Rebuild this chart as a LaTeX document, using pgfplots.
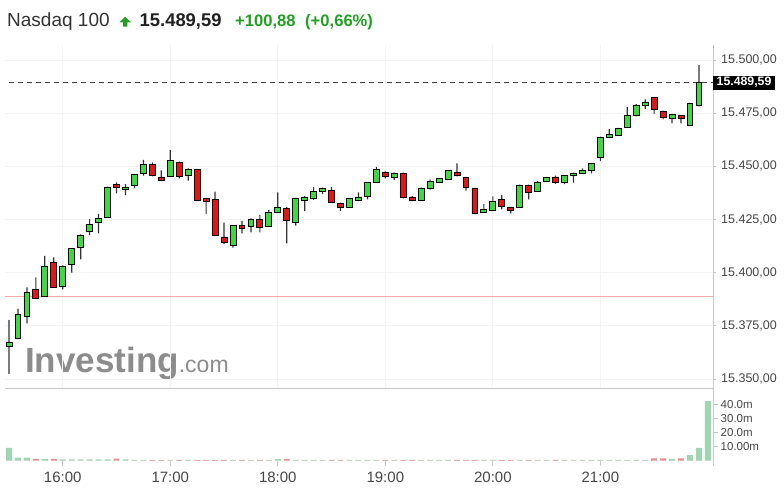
\documentclass[border=0pt]{standalone}
\usepackage{pgfplots}
\pgfplotsset{compat=1.18}
\usepackage{pgfplotstable}
\usepackage{fontspec}
\setmainfont{Liberation Sans}

\definecolor{cgreen}{RGB}{63,217,63}
\definecolor{cred}{RGB}{226,22,22}
\definecolor{wickc}{RGB}{50,50,50}
\definecolor{gridc}{RGB}{244,244,244}
\definecolor{sepc}{RGB}{200,200,200}
\definecolor{labc}{RGB}{70,70,70}
\definecolor{titlec}{RGB}{51,51,51}
\definecolor{upgreen}{RGB}{33,160,33}
\definecolor{prevc}{RGB}{245,170,170}
\definecolor{vgreen}{RGB}{158,214,178}
\definecolor{vred}{RGB}{232,140,140}
\definecolor{wmc}{RGB}{140,140,140}

\pgfplotstableread{
x o h l c
0 15365.5 15377.8 15352.4 15367.3
1 15369.0 15383.1 15368.8 15380.3
2 15379.2 15393.1 15376.2 15390.8
3 15392.2 15397.8 15387.8 15388.0
4 15389.0 15407.9 15388.8 15403.1
5 15405.0 15407.2 15393.0 15393.3
6 15393.4 15403.5 15392.2 15403.1
7 15403.8 15411.5 15400.0 15411.3
8 15411.9 15418.0 15406.3 15417.7
9 15419.3 15425.2 15417.7 15422.8
10 15423.7 15427.6 15418.5 15425.6
11 15426.2 15440.5 15426.0 15440.3
12 15441.6 15442.5 15437.3 15440.0
13 15439.0 15441.6 15436.5 15440.3
14 15441.2 15446.3 15439.7 15446.1
15 15446.5 15453.0 15445.6 15451.0
16 15450.8 15451.9 15445.3 15445.5
17 15445.0 15448.1 15443.4 15443.6
18 15445.3 15457.7 15445.0 15452.7
19 15452.0 15452.2 15444.4 15445.3
20 15445.5 15449.0 15443.3 15448.6
21 15448.6 15448.8 15434.0 15434.2
22 15435.0 15435.2 15427.5 15433.4
23 15434.5 15438.1 15417.5 15417.7
24 15416.8 15423.5 15413.4 15414.3
25 15413.0 15422.3 15411.8 15422.1
26 15422.1 15424.4 15418.5 15420.9
27 15421.6 15425.5 15419.0 15425.1
28 15425.1 15427.1 15419.0 15421.3
29 15421.8 15429.5 15421.6 15428.4
30 15428.4 15437.8 15428.2 15430.9
31 15430.3 15431.0 15413.8 15424.8
32 15423.7 15435.2 15422.1 15435.0
33 15434.2 15436.0 15429.0 15435.6
34 15435.0 15440.4 15434.2 15438.4
35 15438.4 15440.0 15436.9 15439.7
36 15438.6 15440.4 15433.0 15433.1
37 15432.6 15433.0 15429.1 15430.7
38 15430.7 15435.2 15430.5 15435.0
39 15434.2 15437.8 15434.0 15435.6
40 15435.7 15442.7 15434.5 15442.5
41 15442.5 15449.8 15442.3 15448.4
42 15447.2 15447.6 15444.4 15445.3
43 15444.7 15447.0 15443.6 15446.7
44 15446.7 15447.0 15435.0 15435.3
45 15435.6 15436.0 15433.7 15434.2
46 15434.2 15440.0 15434.0 15439.7
47 15439.4 15443.9 15439.0 15442.8
48 15442.5 15444.3 15442.3 15444.1
49 15443.9 15448.2 15443.7 15448.0
50 15447.2 15451.4 15445.3 15445.5
51 15444.9 15445.1 15438.6 15440.0
52 15439.7 15439.9 15427.5 15427.7
53 15428.4 15432.2 15428.2 15429.8
54 15429.5 15435.9 15429.3 15433.7
55 15434.5 15436.5 15429.8 15431.0
56 15430.7 15431.0 15427.9 15429.5
57 15430.7 15441.4 15430.5 15441.2
58 15441.2 15441.4 15434.5 15437.8
59 15438.1 15443.0 15438.0 15442.3
60 15443.1 15445.1 15442.9 15444.9
61 15445.0 15445.6 15441.8 15442.5
62 15442.3 15445.8 15441.6 15445.6
63 15445.5 15447.0 15442.3 15446.7
64 15446.7 15449.1 15446.5 15448.1
65 15448.3 15451.6 15446.7 15451.4
66 15454.3 15464.0 15452.5 15463.8
67 15463.7 15467.6 15463.5 15465.1
68 15464.7 15468.1 15464.5 15467.9
69 15468.5 15477.8 15468.3 15473.7
70 15473.7 15479.3 15473.5 15478.5
71 15478.8 15481.5 15477.0 15480.1
72 15482.5 15482.7 15474.5 15476.8
73 15476.0 15476.2 15472.1 15473.1
74 15472.6 15474.7 15470.2 15474.5
75 15473.8 15474.0 15470.2 15472.6
76 15469.4 15479.8 15469.1 15479.6
77 15478.4 15497.6 15478.2 15489.59
}\candles

\pgfplotstableread{
x vg vr
0 9.0 0
1 2.0 0
2 2.0 0
3 0 1.2
4 1.0 0
5 0 1.2
6 0.8 0
7 0.8 0
8 0.8 0
9 0.8 0
10 0.8 0
11 0.8 0
12 0 1.3
13 0.8 0
14 0.5 0
15 0.5 0
16 0 0.5
17 0 0.5
18 0.5 0
19 0 0.5
20 0.5 0
21 0 0.5
22 0 0.5
23 0 0.5
24 0 0.5
25 0.5 0
26 0 0.5
27 0.5 0
28 0 0.5
29 0.5 0
30 1.0 0
31 0 1.2
32 0.4 0
33 0.4 0
34 0.4 0
35 0.4 0
36 0 0.4
37 0 0.4
38 0.4 0
39 0.4 0
40 0.4 0
41 0.4 0
42 0 0.4
43 0.4 0
44 0 0.4
45 0 0.4
46 0.4 0
47 0.4 0
48 0.4 0
49 0.4 0
50 0 0.4
51 0 0.4
52 0 0.4
53 0.4 0
54 0.4 0
55 0 0.4
56 0 0.4
57 0.4 0
58 0 0.4
59 0.4 0
60 0.4 0
61 0 0.4
62 0.4 0
63 0.4 0
64 0.4 0
65 0.4 0
66 0.4 0
67 0.4 0
68 0.4 0
69 0.4 0
70 0.4 0
71 0.4 0
72 0 1.5
73 0 1.5
74 1.2 0
75 0 1.5
76 3.8 0
77 9.0 0
78 42.4 0
}\vols

\pgfplotsset{
  pricegeom/.style={
    at={(5pt,-388pt)}, anchor=south west, scale only axis,
    width=708pt, height=343pt,
    xmin=-0.446, xmax=78.57, ymin=15345.79, ymax=15507.05,
  }
}

\begin{document}
\begin{tikzpicture}[x=1pt,y=1pt]
\useasboundingbox (0,0) rectangle (784,-493);

% header
\node[anchor=base west, inner sep=0pt, text=titlec, font=\fontsize{19}{19}\selectfont] at (7,-26.7) {Nasdaq 100};
\fill[upgreen] (119.5,-22.3) -- (125.2,-16.8) -- (130.9,-22.3) -- (127.3,-22.3) -- (127.3,-26.7) -- (123.1,-26.7) -- (123.1,-22.3) -- cycle;
\node[anchor=base west, inner sep=0pt, text=black!87, font=\bfseries\fontsize{18.4}{19}\selectfont] at (139.5,-26.7) {15.489,59};
\node[anchor=base west, inner sep=0pt, text=upgreen, font=\bfseries\fontsize{16.6}{17}\selectfont] at (235,-26.7) {+100,88};
\node[anchor=base west, inner sep=0pt, text=upgreen, font=\bfseries\fontsize{16.6}{17}\selectfont] at (305,-26.7) {(+0,66\%)};

% watermark
\node[anchor=base west, inner sep=0pt, text=wmc] at (25,-372.7) {{\bfseries\fontsize{35}{35}\selectfont Investing}{\fontsize{23}{23}\selectfont .com}};

% axis A: grid, ticks, reference lines
\begin{axis}[pricegeom,
  axis line style={draw=none},
  scaled y ticks=false,
  xtick={6,18,30,42,54,66}, xticklabels={}, xmajorgrids,
  xtick style={draw=none},
  ytick={15350,15375,15400,15425,15450,15475,15500},
  yticklabels={{15.350,00},{15.375,00},{15.400,00},{15.425,00},{15.450,00},{15.475,00},{15.500,00}},
  ymajorgrids,
  major grid style={gridc, line width=0.8pt},
  ytick pos=right, yticklabel pos=right, tick align=outside,
  major tick length=3pt,
  ytick style={sepc, line width=0.8pt},
  yticklabel style={font=\fontsize{12.5}{13}\selectfont, text=labc, anchor=west, inner sep=0pt, xshift=5pt},
  /pgf/number format/assume math mode=true,
]
\addplot[prevc, line width=1pt, mark=none] coordinates {(-1,15388.71) (80,15388.71)};
\addplot[black!75, line width=0.9pt, dash pattern=on 5pt off 4pt, mark=none] coordinates {(-1,15489.59) (80,15489.59)};
\end{axis}

% axis C: wicks
\begin{axis}[pricegeom, hide axis, ybar stacked, bar width=1.2pt]
\addplot[draw=none, fill=none] table[x=x, y=l] {\candles};
\addplot[draw=none, fill=wickc] table[x=x, y expr={\thisrow{h}-\thisrow{l}}] {\candles};
\end{axis}

% axis B: bodies
\begin{axis}[pricegeom, hide axis, ybar stacked, bar width=0.66]
\addplot[draw=none, fill=none] table[x=x, y expr={min(\thisrow{o},\thisrow{c})}] {\candles};
\addplot[draw=black, line width=0.9pt, fill=cgreen] table[x=x, y expr={max(\thisrow{c}-\thisrow{o},0)}] {\candles};
\addplot[draw=black, line width=0.9pt, fill=cred] table[x=x, y expr={max(\thisrow{o}-\thisrow{c},0)}] {\candles};
\end{axis}

% volume axis
\begin{axis}[
  at={(5pt,-460.5pt)}, anchor=south west, scale only axis,
  width=708pt, height=72.5pt,
  xmin=-0.446, xmax=78.57, ymin=0, ymax=51.8,
  axis line style={draw=none},
  scaled y ticks=false,
  xtick={6,18,30,42,54,66},
  xticklabels={16:00,17:00,18:00,19:00,20:00,21:00},
  xtick pos=bottom, ytick pos=right, yticklabel pos=right,
  ytick={10,20,30,40},
  yticklabels={10.00m,20.0m,30.0m,40.0m},
  tick align=outside, major tick length=5pt,
  tick style={sepc, line width=0.8pt},
  xticklabel style={font=\fontsize{15}{15}\selectfont, text=labc, inner sep=0pt, yshift=-6.5pt},
  yticklabel style={font=\fontsize{11.5}{12}\selectfont, text=labc, anchor=west, inner sep=0pt, xshift=2.5pt},
  /pgf/number format/assume math mode=true,
  ybar, bar width=0.66, bar shift=0pt,
]
\addplot[draw=none, fill=vgreen] table[x=x, y=vg] {\vols};
\addplot[draw=none, fill=vred] table[x=x, y=vr] {\vols};
\end{axis}

% frame lines
\draw[sepc, line width=1pt] (5,-388) -- (713,-388);
\draw[sepc, line width=1pt] (713,-45) -- (713,-466);

% current price tag
\node[anchor=west, fill=black, text=white, inner xsep=3.5pt, inner ysep=0pt, minimum height=14pt, font=\bfseries\fontsize{12.3}{13}\selectfont] at (713,-82.5) {15.489,59};
\end{tikzpicture}
\end{document}
